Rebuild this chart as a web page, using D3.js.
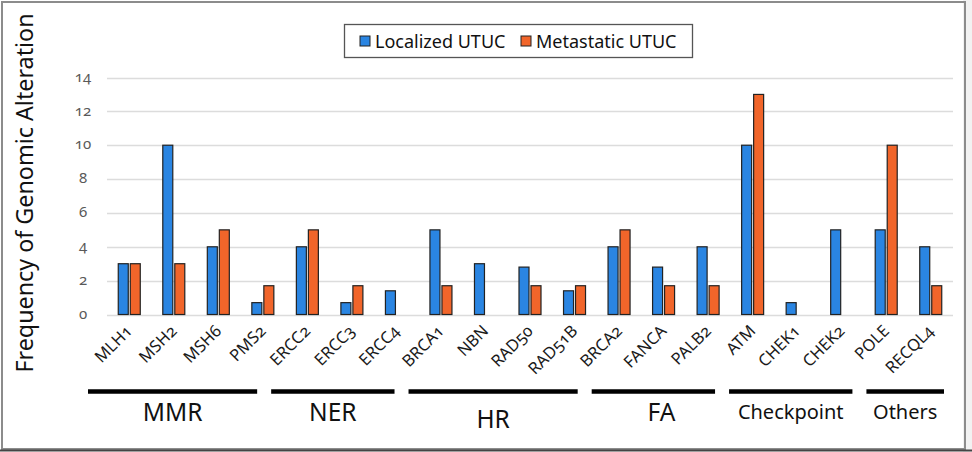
<!DOCTYPE html>
<html><head><meta charset="utf-8">
<script src="https://cdn.jsdelivr.net/npm/d3@7"></script>
<style>
body{margin:0;background:#fff;}
svg{display:block;font-family:"Noto Sans","Open Sans",sans-serif;}
.num{font-variant-numeric:oldstyle-nums;font-feature-settings:"onum" 1;}
</style></head><body>
<svg id="c" width="972" height="452"></svg>
<script>
const genes = ["MLH1","MSH2","MSH6","PMS2","ERCC2","ERCC3","ERCC4","BRCA1","NBN","RAD50","RAD51B","BRCA2","FANCA","PALB2","ATM","CHEK1","CHEK2","POLE","RECQL4"];
const localized = [3,10,4,0.7,4,0.7,1.4,5,3,2.8,1.4,4,2.8,4,10,0.7,5,5,4];
const metastatic = [3,3,5,1.7,5,1.7,0,1.7,0,1.7,1.7,5,1.7,1.7,13,0,0,10,1.7];
const seriesNames = ["Localized UTUC","Metastatic UTUC"];
const groupNames = ["MMR","NER","HR","FA","Checkpoint","Others"];
const groupCounts = [4,3,4,3,3,2];
const yTicks = [0,2,4,6,8,10,12,14];
const colors = ["#2a85e2","#f1652a"];

const svg = d3.select("#c");
// outer frame
svg.append("rect").attr("x",963).attr("y",0).attr("width",9).attr("height",452).attr("fill","#f2f2f2");
svg.append("rect").attr("x",2).attr("y",2).attr("width",963).attr("height",447)
  .attr("fill","none").attr("stroke","#8c8c8c").attr("stroke-width",2);
svg.append("line").attr("x1",0).attr("x2",972).attr("y1",450.5).attr("y2",450.5).attr("stroke","#444").attr("stroke-width",2);

const x = d3.scaleBand().domain(genes).range([107,953]).paddingInner(0).paddingOuter(0);
const y = d3.scaleLinear().domain([0,14]).range([314.5,77.5]);
const bw = 10, gap = 2;

// gridlines
svg.append("g").selectAll("line").data(yTicks).join("line")
  .attr("x1",107).attr("x2",953).attr("y1",d=>Math.round(y(d))+0.5).attr("y2",d=>Math.round(y(d))+0.5)
  .attr("stroke","#dcdcdc").attr("stroke-width",1.5);

// y axis tick labels
const yAxis = d3.axisLeft(y).tickValues(yTicks).tickSize(0).tickPadding(0);
const ga = svg.append("g").attr("transform","translate(83,0)").call(yAxis);
ga.select(".domain").remove();
ga.selectAll("text").attr("class","num").attr("font-size",15).attr("fill","#595959")
  .attr("font-family","'Noto Sans',sans-serif").attr("text-anchor","middle").attr("dy","0.25em");

// bars
const series = [localized, metastatic];
series.forEach((vals,si)=>{
  svg.append("g").selectAll("rect").data(genes).join("rect")
    .attr("x",(g)=>x(g)+x.bandwidth()/2 - bw - gap/2 + si*(bw+gap))
    .attr("y",(g,i)=>y(vals[i]))
    .attr("width",bw)
    .attr("height",(g,i)=>y(0)-y(vals[i]))
    .attr("fill",colors[si]).attr("stroke","#222").attr("stroke-width",1.2)
    .attr("display",(g,i)=>vals[i]>0?null:"none");
});

// x labels
svg.append("g").selectAll("text").data(genes).join("text")
  .attr("class","num")
  .attr("transform",g=>`translate(${x(g)+x.bandwidth()/2+4},332) rotate(-45)`)
  .attr("text-anchor","end").attr("font-size",16.5).attr("fill","#1a1a1a")
  .text(g=>g);

// group lines and labels
const gx = d3.scaleLinear().domain([107,953]).range([88,958]);
let start = 0;
const gg = svg.append("g");
groupCounts.forEach((c,i)=>{
  const a = genes[start], b = genes[start+c-1]; start += c;
  const x1 = gx(x(a)), x2 = gx(x(b)+x.bandwidth()) - 14;
  gg.append("line").attr("x1",x1).attr("x2",x2).attr("y1",391.5).attr("y2",391.5)
    .attr("stroke","#000").attr("stroke-width",4.5);
  const small = groupNames[i].length>3;
  gg.append("text").attr("x",(x1+x2)/2 + (i===3?8:0)).attr("y",i===2?428:(small?419:421))
    .attr("text-anchor","middle").attr("font-size",small?20:24.5).attr("fill","#111")
    .text(groupNames[i]);
});

// y axis title
svg.append("text").attr("transform","translate(33,193) rotate(-90)")
  .attr("text-anchor","middle").attr("font-size",23.3).attr("fill","#111")
  .text("Frequency of Genomic Alteration");

// legend
const lg = svg.append("g");
lg.append("rect").attr("x",344.5).attr("y",24.5).attr("width",348).attr("height",33)
  .attr("fill","#fff").attr("stroke","#555").attr("stroke-width",1.3);
const legX = [360,521];
seriesNames.forEach((n,i)=>{
  lg.append("rect").attr("x",legX[i]).attr("y",36).attr("width",10).attr("height",10)
    .attr("fill",colors[i]).attr("stroke","#222").attr("stroke-width",1);
  lg.append("text").attr("x",legX[i]+15).attr("y",47.5).attr("font-size",18).attr("fill","#111").text(n);
});
</script></body></html>
